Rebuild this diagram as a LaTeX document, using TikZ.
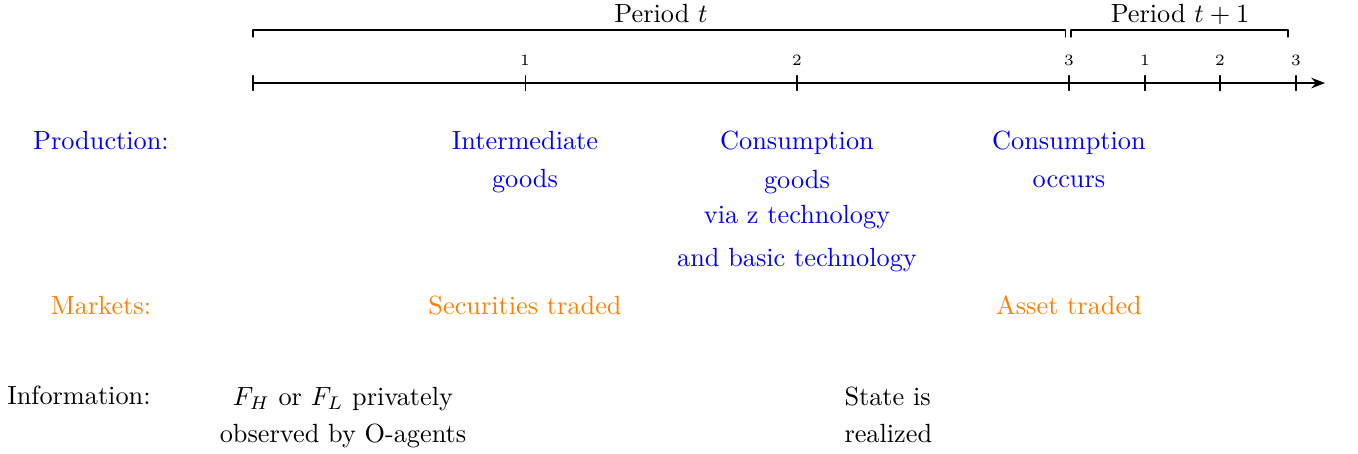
\documentclass[tikz,border=0pt]{standalone}
\usepackage{amsmath}
\usepackage{amssymb}
\usepackage{xcolor}
\usetikzlibrary{arrows.meta}
\definecolor{mktorange}{rgb}{1,0.5,0}
\tikzset{
  prodtext/.style={text=blue,align=center,anchor=base,inner sep=0pt,font=\fontsize{10pt}{14.4pt}\selectfont},
  mkttext/.style={text=mktorange,anchor=base,inner sep=0pt,font=\fontsize{10pt}{14.4pt}\selectfont},
  infotext/.style={align=center,anchor=base,inner sep=0pt,font=\fontsize{10pt}{14.4pt}\selectfont},
  ticklab/.style={anchor=base,inner sep=0pt,font=\fontsize{6pt}{7pt}\selectfont}
}

\begin{document}
\begin{tikzpicture}[line cap=round,line join=round,>={Stealth[length=5.2pt,width=4pt]},x=1cm,y=1cm]
	\useasboundingbox (0,0) rectangle (18.155,-6.056);
	% time axis
	\coordinate (start) at (3.382,-1.110);
	\coordinate (stop) at (17.714,-1.110);
	\draw[thick,->] (start) -- (stop);
	\draw (3.382,-1.010)-- (3.382,-1.210);
	\draw (7.019,-1.010)-- (7.019,-1.210);
	\draw (10.655,-1.010)-- (10.655,-1.210);
	\draw (14.291,-1.010)-- (14.291,-1.210);
	\draw (15.307,-1.010)-- (15.307,-1.210);
	\draw (16.310,-1.010)-- (16.310,-1.210);
	\draw (17.326,-1.010)-- (17.326,-1.210);
	\node[ticklab] (tA) at (7.019,-0.882) {1};
	\node[ticklab] (tB) at (10.655,-0.882) {2};
	\node[ticklab] (tC) at (14.291,-0.882) {3};
	\node[ticklab] (tD) at (15.307,-0.882) {1};
	\node[ticklab] (tE) at (16.310,-0.882) {2};
	\node[ticklab] (tF) at (17.326,-0.882) {3};
	% periods
	\draw (3.382,-0.495)-- (3.382,-0.401)-- (14.250,-0.401)-- (14.250,-0.495);
	\draw (14.318,-0.495)-- (14.318,-0.401)-- (17.219,-0.401)-- (17.219,-0.495);
	\node[infotext] (pert) at (8.837,-0.294) {Period $t$};
	\node[infotext] (pertt) at (15.775,-0.294) {Period $t+1$};
	% row labels
	\node[prodtext] (prod) at (1.350,-1.992) {Production:};
	\node[mkttext] (mkt) at (1.350,-4.198) {Markets:};
	\node[infotext] (info) at (1.056,-5.414) {Information:};
	% production (base = last line)
	\node[prodtext] (interm) at (7.019,-2.500) {Intermediate\\goods};
	\node[prodtext] (consgoods) at (10.655,-3.565) {Consumption\\[0.6pt]goods\\[-1.3pt]via z technology\\[2.2pt]and basic technology};
	\node[prodtext] (consocc) at (14.291,-2.500) {Consumption\\occurs};
	% markets
	\node[mkttext] (secur) at (7.019,-4.198) {Securities traded};
	\node[mkttext] (asset) at (14.291,-4.198) {Asset traded};
	% information
	\node[infotext] (signal) at (4.586,-5.922) {$F_H$ or $F_L$ privately\\observed by O-agents};
	\node[infotext,align=left,anchor=base west] (state) at (11.283,-5.922) {State is\\realized};
\end{tikzpicture}
\end{document}
